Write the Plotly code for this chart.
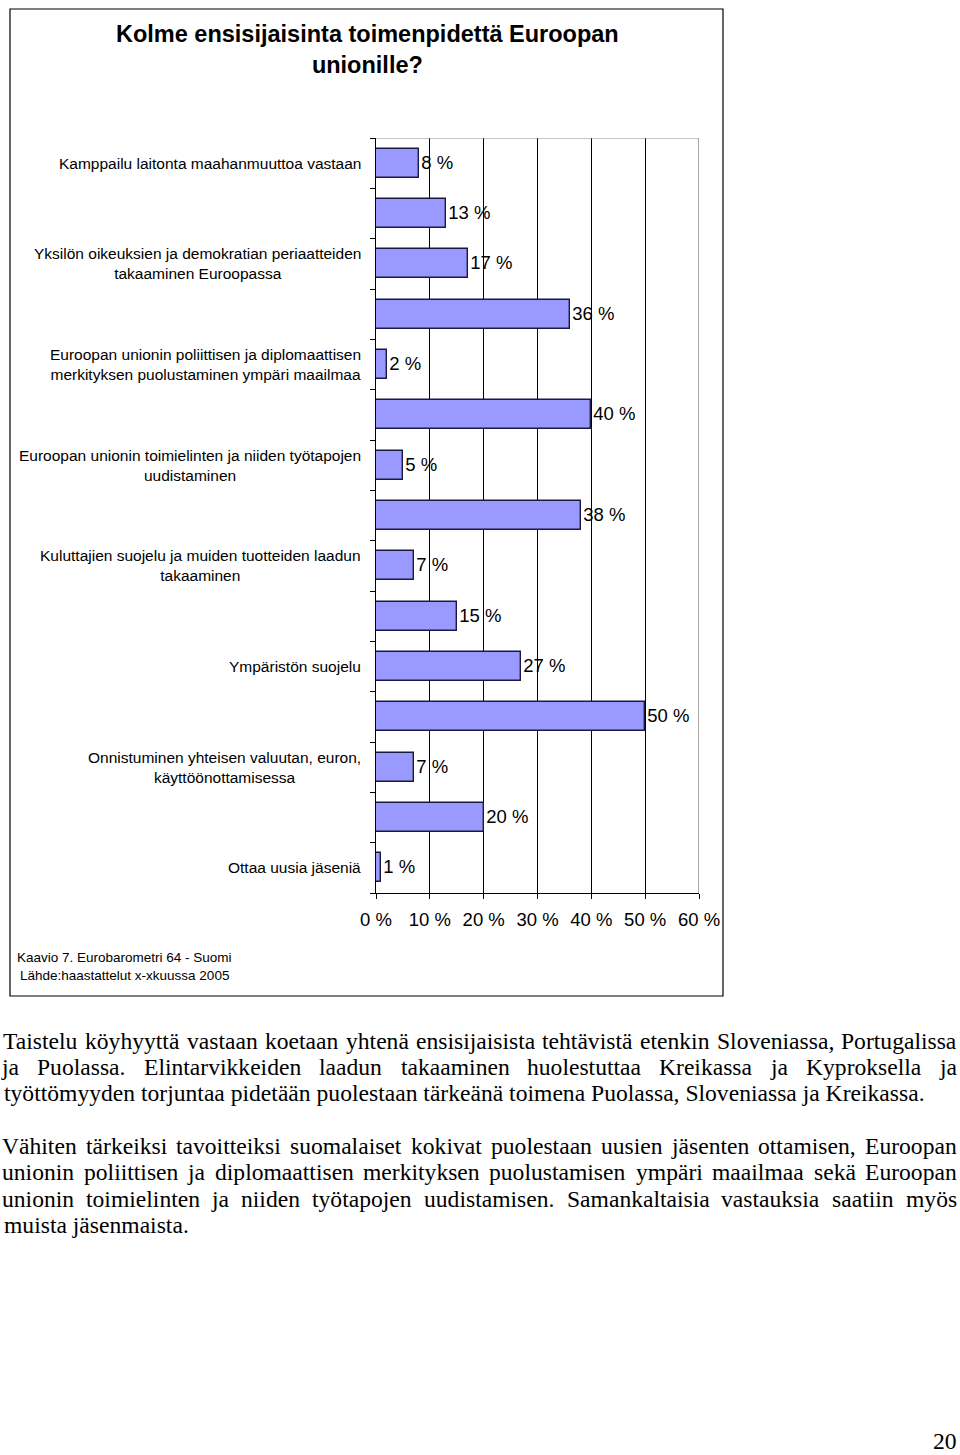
import plotly.graph_objects as go

W, H = 960, 1455

title_lines = ["Kolme ensisijaisinta toimenpidettä Euroopan", "unionille?"]
values = [8, 13, 17, 36, 2, 40, 5, 38, 7, 15, 27, 50, 7, 20, 1]
category_labels = [
    "Kamppailu laitonta maahanmuuttoa vastaan",
    "Yksilön oikeuksien ja demokratian periaatteiden<br>takaaminen Euroopassa",
    "Euroopan unionin poliittisen ja diplomaattisen<br>merkityksen puolustaminen ympäri maailmaa",
    "Euroopan unionin toimielinten ja niiden työtapojen<br>uudistaminen",
    "Kuluttajien suojelu ja muiden tuotteiden laadun<br>takaaminen",
    "Ympäristön suojelu",
    "Onnistuminen yhteisen valuutan, euron,<br>käyttöönottamisessa",
    "Ottaa uusia jäseniä",
]
x_ticks = [0, 10, 20, 30, 40, 50, 60]
source_lines = ["Kaavio 7. Eurobarometri 64 - Suomi", "Lähde:haastattelut x-xkuussa 2005"]

paragraph_1 = [
    "Taistelu köyhyyttä vastaan koetaan yhtenä ensisijaisista tehtävistä etenkin Sloveniassa, Portugalissa",
    "ja Puolassa. Elintarvikkeiden laadun takaaminen huolestuttaa Kreikassa ja Kyproksella ja",
    "työttömyyden torjuntaa pidetään puolestaan tärkeänä toimena Puolassa, Sloveniassa ja Kreikassa.",
]
paragraph_2 = [
    "Vähiten tärkeiksi tavoitteiksi suomalaiset kokivat puolestaan uusien jäsenten ottamisen, Euroopan",
    "unionin poliittisen ja diplomaattisen merkityksen puolustamisen ympäri maailmaa sekä Euroopan",
    "unionin toimielinten ja niiden työtapojen uudistamisen. Samankaltaisia vastauksia saatiin myös",
    "muista jäsenmaista.",
]
page_number = "20"

SANS = "Liberation Sans, Arial, sans-serif"
SERIF = "Liberation Serif, Times New Roman, serif"

# Times-style advance widths (1/1000 em), used to justify body text lines
TIMES_W = {
    " ": 250, "a": 444, "b": 500, "c": 444, "d": 500, "e": 444, "f": 333, "g": 500,
    "h": 500, "i": 278, "j": 278, "k": 500, "l": 278, "m": 778, "n": 500, "o": 500,
    "p": 500, "q": 500, "r": 333, "s": 389, "t": 278, "u": 500, "v": 500, "w": 722,
    "x": 500, "y": 500, "z": 444, "ä": 444, "ö": 500, ".": 250, ",": 250,
    "E": 611, "K": 722, "P": 556, "S": 556, "T": 611, "V": 722,
}


def px(x):
    return x / W


def py(y):
    return 1 - y / H


def word_width(word, size):
    return sum(TIMES_W.get(c, 500) for c in word) * size / 1000


fig = go.Figure()
fig.add_trace(go.Bar(
    x=values,
    y=list(range(len(values))),
    orientation="h",
    width=0.57,
    marker=dict(color="#9999FF", line=dict(color="#1a1a40", width=1.4)),
    text=[f"{v} %" for v in values],
    textposition="outside",
    textfont=dict(family=SANS, size=18.5, color="black"),
    constraintext="none",
    cliponaxis=False,
    hoverinfo="skip",
))

annotations = [
    dict(text="<br>".join(f"<b>{t}</b>" for t in title_lines),
         x=px(367), y=py(50), xref="paper", yref="paper",
         showarrow=False, font=dict(family=SANS, size=23.5, color="black"),
         xanchor="center", yanchor="middle", align="center"),
]

for k, lab in enumerate(category_labels):
    annotations.append(dict(
        text=lab, x=px(363), y=2 * k, xref="paper", yref="y",
        showarrow=False, xanchor="right", yanchor="middle", align="center",
        font=dict(family=SANS, size=15.5, color="black"),
    ))

for line, yc in zip(source_lines, [957, 976]):
    annotations.append(dict(
        text=line, x=px(124), y=py(yc), xref="paper", yref="paper",
        showarrow=False, xanchor="center", yanchor="middle",
        font=dict(family=SANS, size=13.5, color="black"),
    ))

BODY_SIZE = 23.6
X0, X1 = 2, 957
body_font = dict(family=SERIF, size=BODY_SIZE, color="black")


def add_body(lines, y_start, step):
    for i, line in enumerate(lines):
        yc = y_start + i * step
        if i == len(lines) - 1:
            annotations.append(dict(
                text=line, x=px(X0), y=py(yc), xref="paper", yref="paper",
                showarrow=False, xanchor="left", yanchor="middle", font=body_font,
            ))
            continue
        # justified line: spread words so the line fills X0..X1
        words = line.split(" ")
        widths = [word_width(w, BODY_SIZE) for w in words]
        gap = (X1 - X0 - sum(widths)) / (len(words) - 1)
        x = X0
        for w, ww in zip(words, widths):
            annotations.append(dict(
                text=w, x=px(x + ww / 2), y=py(yc), xref="paper", yref="paper",
                showarrow=False, xanchor="center", yanchor="middle", font=body_font,
            ))
            x += ww + gap


add_body(paragraph_1, 1041, 26.2)
add_body(paragraph_2, 1146, 26.3)

annotations.append(dict(
    text=page_number, x=px(959), y=py(1441), xref="paper", yref="paper",
    showarrow=False, xanchor="right", yanchor="middle", font=body_font,
))

shapes = [
    # outer chart frame
    dict(type="rect", xref="paper", yref="paper", x0=px(10), x1=px(723),
         y0=py(996), y1=py(9), line=dict(color="black", width=1.2)),
    # grey plot-area border (top and right)
    dict(type="line", xref="x", yref="y", x0=0, x1=60, y0=-0.5, y1=-0.5,
         line=dict(color="#8c8c8c", width=1.2), layer="above"),
    dict(type="line", xref="x", yref="y", x0=60, x1=60, y0=-0.5, y1=14.5,
         line=dict(color="#8c8c8c", width=1.5), layer="above"),
]

fig.update_layout(
    width=W, height=H, autosize=False,
    margin=dict(l=0, r=0, t=0, b=0, pad=0),
    paper_bgcolor="white", plot_bgcolor="white",
    showlegend=False,
    bargap=0,
    xaxis=dict(
        domain=[px(376), px(699)], range=[0, 60], tickvals=x_ticks,
        ticktext=[f"{v} %" for v in x_ticks], automargin=False,
        showgrid=True, gridcolor="black", gridwidth=1,
        showline=True, linecolor="black", linewidth=1, zeroline=False,
        ticks="outside", ticklen=5, tickcolor="black", ticklabelstandoff=5,
        tickfont=dict(family=SANS, size=18.5, color="black"),
        fixedrange=True,
    ),
    yaxis=dict(
        domain=[py(893), py(138)], range=[14.5, -0.5], automargin=False,
        tickvals=[i - 0.5 for i in range(len(values) + 1)],
        showticklabels=False, ticks="outside", ticklen=5, tickcolor="black",
        showline=True, linecolor="black", linewidth=1,
        showgrid=False, zeroline=False, fixedrange=True,
    ),
    annotations=annotations,
    shapes=shapes,
)

fig.write_html("out.html", config={"displayModeBar": False},
               post_script="document.body.style.margin='0';")
